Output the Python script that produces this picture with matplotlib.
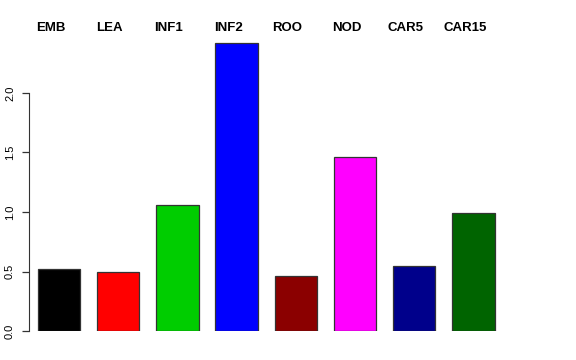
# bar chart of expression by tissue, R barplot look
import numpy as np
import matplotlib.pyplot as plt

plt.rcParams['font.family'] = ['Liberation Sans', 'DejaVu Sans']

tissues = ["EMB", "LEA", "INF1", "INF2", "ROO", "NOD", "CAR5", "CAR15"]
values = [0.52, 0.50, 1.06, 2.42, 0.46, 1.46, 0.545, 0.99]
colors = ["#000000", "#FF0000", "#00CD00", "#0000FF",
          "#8B0000", "#FF00FF", "#00008B", "#006400"]
yticks = [0.0, 0.5, 1.0, 1.5, 2.0]

W, H = 576, 360
fig = plt.figure(figsize=(W / 100, H / 100), dpi=100)

# axes placed in pixels: left spine at x=29, zero line at y=331
left_px, right_px = 29, 560
bottom_px, top_px = 331, 20
ax = fig.add_axes([left_px / W, (H - bottom_px) / H,
                   (right_px - left_px) / W, (bottom_px - top_px) / H])

# R style: width 1, space 0.4
space = 0.4
x = space + 0.5 + np.arange(len(values)) * (1 + space)
ax.bar(x, values, width=1.0, color=colors, edgecolor="#333333", linewidth=0.9)

px_per_unit = 42.3
zero_px = 20.9
ax.set_xlim((left_px - zero_px) / px_per_unit, (right_px - zero_px) / px_per_unit)
ax.set_ylim(0, (bottom_px - top_px) / 119.0)

for xi, name in zip(x, tissues):
    ax.text(xi - 0.2, 2.545, name, ha="center", va="center",
            fontsize=9.5, fontweight="bold")

for s in ["top", "right", "bottom"]:
    ax.spines[s].set_visible(False)
ax.spines["left"].set_bounds(0, 2)
ax.spines["left"].set_color("#333333")
ax.set_xticks([])
ax.set_yticks(yticks)
ax.set_yticklabels(["%.1f" % t for t in yticks], rotation=90, va="center")
ax.tick_params(axis="y", length=5, width=0.9, color="#333333",
               labelsize=8, pad=5)

fig.savefig("out.png", dpi=100)
